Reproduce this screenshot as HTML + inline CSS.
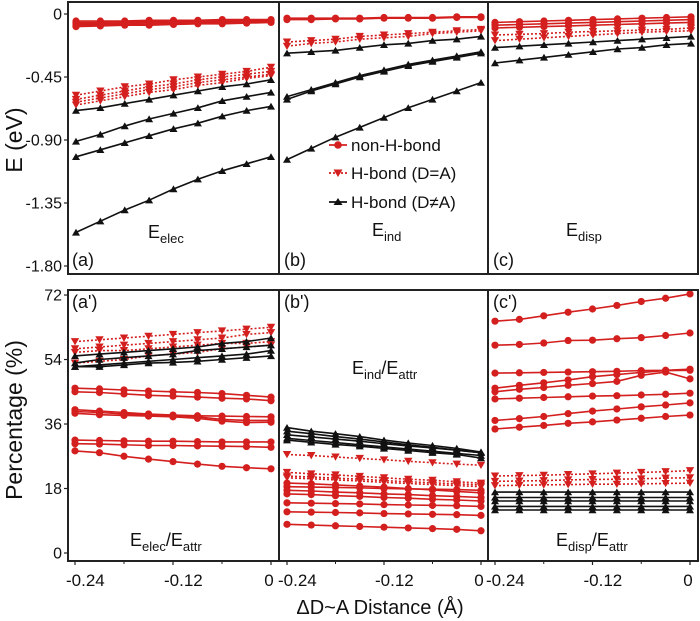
<!DOCTYPE html>
<html><head><meta charset="utf-8"><style>
html,body{margin:0;padding:0;background:#fff;}
svg{display:block;font-family:"Liberation Sans",Arial,sans-serif;}
</style></head><body>
<svg id="chart" width="700" height="621" viewBox="0 0 700 621"></svg>
<script>
// x values (ΔD~A distance, Å)
const xVals = [-0.24,-0.21,-0.18,-0.15,-0.12,-0.09,-0.06,-0.03,0];
const xTickLabels = ["-0.24","-0.12","0"];
const xTickVals = [-0.24,-0.12,0];
const eTickVals = [0,-0.45,-0.9,-1.35,-1.8];
const eTickLabels = ["0","-0.45","-0.90","-1.35","-1.80"];
const pTickVals = [0,18,36,54,72];
const pTickLabels = ["0","18","36","54","72"];

// Panel (a) E_elec
const aNon = [[-0.05,-0.05,-0.05,-0.045,-0.045,-0.045,-0.04,-0.04,-0.04],[-0.06,-0.06,-0.055,-0.055,-0.05,-0.05,-0.05,-0.045,-0.045],[-0.07,-0.07,-0.065,-0.06,-0.06,-0.055,-0.055,-0.05,-0.05],[-0.08,-0.078,-0.075,-0.07,-0.068,-0.065,-0.062,-0.06,-0.055],[-0.09,-0.085,-0.08,-0.08,-0.075,-0.07,-0.07,-0.065,-0.06]];
const aDA = [[-0.58,-0.55,-0.52,-0.5,-0.47,-0.45,-0.43,-0.41,-0.38],[-0.61,-0.58,-0.55,-0.52,-0.5,-0.47,-0.45,-0.43,-0.41],[-0.63,-0.6,-0.57,-0.54,-0.52,-0.49,-0.47,-0.45,-0.43],[-0.65,-0.62,-0.59,-0.56,-0.54,-0.51,-0.49,-0.46,-0.44]];
const aDNA = [[-0.69,-0.67,-0.64,-0.61,-0.58,-0.55,-0.52,-0.5,-0.47],[-0.91,-0.86,-0.8,-0.75,-0.71,-0.67,-0.62,-0.59,-0.56],[-1.02,-0.97,-0.92,-0.87,-0.82,-0.78,-0.73,-0.69,-0.66],[-1.56,-1.48,-1.4,-1.33,-1.25,-1.18,-1.12,-1.07,-1.02]];
// Panel (b) E_ind
const bNon = [[-0.03,-0.03,-0.03,-0.03,-0.025,-0.025,-0.025,-0.02,-0.02],[-0.04,-0.04,-0.035,-0.035,-0.03,-0.03,-0.03,-0.025,-0.025]];
const bDA = [[-0.2,-0.19,-0.18,-0.16,-0.15,-0.14,-0.13,-0.12,-0.11],[-0.23,-0.21,-0.2,-0.18,-0.17,-0.16,-0.14,-0.13,-0.12]];
const bDNA = [[-0.28,-0.27,-0.26,-0.24,-0.22,-0.21,-0.19,-0.18,-0.16],[-0.59,-0.54,-0.49,-0.44,-0.4,-0.36,-0.33,-0.3,-0.27],[-0.61,-0.55,-0.5,-0.45,-0.41,-0.37,-0.34,-0.31,-0.28],[-1.04,-0.96,-0.88,-0.81,-0.74,-0.67,-0.61,-0.55,-0.49]];
// Panel (c) E_disp
const cNon = [[-0.06,-0.055,-0.05,-0.045,-0.04,-0.035,-0.03,-0.025,-0.02],[-0.08,-0.075,-0.07,-0.065,-0.06,-0.055,-0.05,-0.045,-0.04],[-0.1,-0.095,-0.09,-0.085,-0.08,-0.075,-0.07,-0.065,-0.06]];
const cDA = [[-0.15,-0.145,-0.14,-0.13,-0.125,-0.12,-0.115,-0.11,-0.1],[-0.19,-0.18,-0.17,-0.16,-0.15,-0.14,-0.13,-0.125,-0.12]];
const cDNA = [[-0.24,-0.23,-0.22,-0.21,-0.2,-0.19,-0.18,-0.17,-0.16],[-0.35,-0.33,-0.31,-0.29,-0.27,-0.25,-0.24,-0.22,-0.21]];
// Panel (a') E_elec/E_attr
const apNon = [[46,45.8,45.5,45.2,45,44.8,44.5,44,43.5],[45,44.8,44.4,44,43.8,43.5,43.2,43,42.5],[40,39.6,39.2,38.8,38.5,38.3,38.2,38.1,38],[39.5,39.2,38.8,38.6,38.4,38,37.3,37,37],[39,38.6,38.4,38.2,38,37.6,36.8,36.4,36.5],[31.5,31.4,31.3,31.2,31.2,31.1,31,31,31],[30.5,30.4,30.2,30,30,29.9,29.8,29.7,29.5],[28.5,28,27,26.2,25.5,24.8,24.2,23.8,23.5]];
const apDA = [[59,59.5,60,60.5,61,61.5,62,62.5,63],[57,57.5,58,58.5,59,59.5,60,61,61.5],[56,56.5,56.5,57,57.5,58,58.5,58.5,59],[53,53.5,54,55,55.5,56,57,57.5,58]];
const apDNA = [[55,55.5,56,56.5,57,57.5,58.5,59,60],[53,54,54.5,55,55.5,56.5,57,57.5,58],[52,52.5,53,53.5,54,54.5,55,55.5,56.5],[52,52,52.5,53,53.2,53.5,54,54.5,55]];
// Panel (b') E_ind/E_attr
const bpNon = [[19.5,19.3,19,18.7,18.4,18,17.6,17.2,16.8],[18.5,18.4,18.3,18.2,18,17.9,17.8,17.7,17.5],[17.5,17.3,17,16.8,16.5,16.3,16,15.8,15.5],[16.5,16.3,16,15.8,15.5,15.3,15,14.8,14.5],[14,13.9,13.8,13.7,13.5,13.4,13.3,13.2,13],[11.5,11.4,11.3,11.2,11,10.9,10.8,10.7,10.5],[8,7.8,7.6,7.4,7.2,7,6.8,6.6,6.2]];
const bpDA = [[27.5,27.2,26.8,26.4,26,25.6,25.2,24.8,24.5],[22.5,22.1,21.8,21.4,21,20.6,20.3,19.9,19.5],[21.5,21.2,20.9,20.6,20.2,19.9,19.6,19.3,19],[21,20.7,20.4,20.1,19.7,19.4,19.1,18.8,18.5]];
const bpDNA = [[35,34,33.3,32.5,31.5,30.7,30,29.2,28.2],[34,33.3,32.5,31.8,31,30.2,29.5,28.7,28],[33,32.4,31.8,31.2,30.5,29.9,29.3,28.7,28],[32,31.4,30.8,30.2,29.6,29,28.4,27.8,27.2],[31.5,30.9,30.3,29.8,29.2,28.6,28,27.5,26.5]];
// Panel (c') E_disp/E_attr
const cpNon = [[64.7,65.2,66.2,67.2,68.1,69.1,70.2,71.1,72.3],[58,58.2,58.6,59.3,59.4,59.8,60.1,60.7,61.4],[50.2,50.3,50.4,50.5,50.6,50.7,50.9,51,51.3],[46,46.8,47.5,48.3,49.2,49.8,50.4,50.9,51],[45,45.7,46.2,46.8,47.3,47.9,49.6,50.5,48.6],[43,43.2,43.4,43.6,43.8,43.9,44.1,44.3,44.6],[37,37.5,38.1,38.9,39.6,40.2,40.8,41.3,41.9],[34.6,35.1,35.6,36.2,36.6,37.1,37.6,38.1,38.5]];
const cpDA = [[21.5,21.6,21.7,21.9,22.1,22.3,22.5,22.7,23],[20,20.1,20.2,20.4,20.5,20.6,20.7,20.9,21],[18.8,18.9,19,19.1,19.2,19.2,19.3,19.4,19.5]];
const cpDNA = [[17,17,17,17,17,17,17,17,17],[15.5,15.5,15.5,15.5,15.5,15.5,15.5,15.5,15.5],[14.5,14.5,14.5,14.5,14.5,14.5,14.5,14.5,14.5],[13,13,13,13,13,13,13,13,13],[12,12,12,12,12,12,12,12,12]];

const svg = document.getElementById('chart');
const NS = 'http://www.w3.org/2000/svg';
function mk(tag, attrs, parent){const e=document.createElementNS(NS,tag);for(const k in attrs)e.setAttribute(k,attrs[k]);(parent||svg).appendChild(e);return e;}
const RED='#d41f1f', BLK='#111';

const panels = [
 {id:'a', x0:68, x1:279, px0:76, px1:271, top:2, bot:274, y0:14, yScale:140, type:'e', non:aNon, da:aDA, dna:aDNA},
 {id:'b', x0:279, x1:488, px0:287, px1:481, top:2, bot:274, y0:14, yScale:140, type:'e', non:bNon, da:bDA, dna:bDNA},
 {id:'c', x0:488, x1:698, px0:495, px1:691, top:2, bot:274, y0:14, yScale:140, type:'e', non:cNon, da:cDA, dna:cDNA},
 {id:'a-prime', x0:68, x1:279, px0:75, px1:271, top:290, bot:561, y0:553, yScale:-3.583, type:'p', non:apNon, da:apDA, dna:apDNA},
 {id:'b-prime', x0:279, x1:488, px0:287, px1:481, top:290, bot:561, y0:553, yScale:-3.583, type:'p', non:bpNon, da:bpDA, dna:bpDNA},
 {id:'c-prime', x0:488, x1:698, px0:495, px1:690, top:290, bot:561, y0:553, yScale:-3.583, type:'p', non:cpNon, da:cpDA, dna:cpDNA}
];

panels.forEach(p=>{
  const sx = v => p.px0 + (v - xVals[0])/(xVals[xVals.length-1]-xVals[0])*(p.px1-p.px0);
  const sy = v => p.type==='e' ? p.y0 - v*p.yScale : p.y0 + v*p.yScale;
  const g = mk('g',{});
  
  
  const groups=[['non-h-bond',p.non,RED,'circle',null],['h-bond-d-eq-a',p.da,RED,'down','2,2'],['h-bond-d-neq-a',p.dna,BLK,'up',null]];
  groups.forEach(([nm,series,col,shape,dash])=>{
    series.forEach((vals,si)=>{
      const pts = vals.map((v,i)=>sx(xVals[i]).toFixed(1)+','+sy(v).toFixed(1)).join(' ');
      const pl = mk('polyline',{points:pts,fill:'none',stroke:col,'stroke-width':1.6},g);
      if(dash) pl.setAttribute('stroke-dasharray',dash);
      
      
      vals.forEach((v,i)=>{
        const cx=sx(xVals[i]), cy=sy(v); let m;
        if(shape==='circle') m=mk('circle',{cx:cx,cy:cy,r:3.6,fill:col},g);
        else if(shape==='down') m=mk('polygon',{points:`${cx-4.2},${cy-3.5} ${cx+4.2},${cy-3.5} ${cx},${cy+3.8}`,fill:col},g);
        else m=mk('polygon',{points:`${cx-4},${cy+3.2} ${cx+4},${cy+3.2} ${cx},${cy-3.6}`,fill:col},g);
        
        
      });
    });
  });
  const fr = mk('rect',{x:p.x0,y:p.top,width:p.x1-p.x0,height:p.bot-p.top,fill:'none',stroke:'#222','stroke-width':2});
  
  
  if(p.type==='p'){
    xTickVals.forEach((v,i)=>{
      mk('line',{x1:sx(v),x2:sx(v),y1:p.bot,y2:p.bot+4,stroke:'#222','stroke-width':1.2});
      const isZero = xTickLabels[i]==='0';
      const t=mk('text',{x:isZero? sx(v)-2 : sx(v)-9,y:586,'font-size':17,'text-anchor':isZero?'middle':'start',fill:'#111'});
      t.textContent=xTickLabels[i];
      
      
    });
    [-0.18,-0.06].forEach(v=>mk('line',{x1:sx(v),x2:sx(v),y1:p.bot,y2:p.bot+3,stroke:'#222','stroke-width':1}));
  }
});

// y axes
function yAxis(vals,labels,y0,scale,type){
  vals.forEach((v,i)=>{
    const y = type==='e'? y0 - v*scale : y0 + v*scale;
    mk('line',{x1:64,x2:68,y1:y,y2:y,stroke:'#222','stroke-width':1.2});
    const t=mk('text',{x:62,y:y+5.5,'font-size':16,'text-anchor':'end',fill:'#111'});
    t.textContent=labels[i];
    
    
  });
}
yAxis(eTickVals,eTickLabels,14,140,'e');
yAxis(pTickVals,pTickLabels,553,-3.583,'p');

function txt(x,y,s,size,name,extra){const t=mk('text',Object.assign({x:x,y:y,'font-size':size,fill:'#111'},extra||{}));t.innerHTML=s;return t;}
txt(22,140,'E (eV)',23,'y-axis-title-energy',{transform:'rotate(-90 22 140)','text-anchor':'middle'});
txt(22,420,'Percentage (%)',23,'y-axis-title-percentage',{transform:'rotate(-90 22 420)','text-anchor':'middle'});
txt(380,614,'ΔD~A Distance (Å)',20,'x-axis-title',{'text-anchor':'middle'});
txt(72,266,'(a)',18,'panel-label-a'); txt(284,266,'(b)',18,'panel-label-b'); txt(493,266,'(c)',18,'panel-label-c');
txt(72,308,"(a')",18,'panel-label-a-prime'); txt(284,308,"(b')",18,'panel-label-b-prime'); txt(493,308,"(c')",18,'panel-label-c-prime');
const sub='<tspan font-size="13" dy="5">';
txt(148,238,'E'+sub+'elec</tspan>',18,'label-e-elec');
txt(372,236,'E'+sub+'ind</tspan>',18,'label-e-ind');
txt(566,236,'E'+sub+'disp</tspan>',18,'label-e-disp');
txt(130,546,'E'+sub+'elec</tspan><tspan dy="-5">/E</tspan>'+sub+'attr</tspan>',18,'label-elec-ratio');
txt(352,374,'E'+sub+'ind</tspan><tspan dy="-5">/E</tspan>'+sub+'attr</tspan>',18,'label-ind-ratio');
txt(556,546,'E'+sub+'disp</tspan><tspan dy="-5">/E</tspan>'+sub+'attr</tspan>',18,'label-disp-ratio');

// legend
const lg = mk('g',{});


[['non-H-bond',RED,'circle',null,145],['H-bond (D=A)',RED,'down','2,2',173],['H-bond (D≠A)',BLK,'up',null,202]].forEach(([s,col,shape,dash,y])=>{
  const l=mk('line',{x1:329,x2:347,y1:y,y2:y,stroke:col,'stroke-width':1.8},lg);
  if(dash) l.setAttribute('stroke-dasharray',dash);
  const cx=338;
  if(shape==='circle') mk('circle',{cx:cx,cy:y,r:3.8,fill:col},lg);
  else if(shape==='down') mk('polygon',{points:`${cx-4.5},${y-3.5} ${cx+4.5},${y-3.5} ${cx},${y+4}`,fill:col},lg);
  else mk('polygon',{points:`${cx-4.5},${y+3} ${cx+4.5},${y+3} ${cx},${y-4}`,fill:col},lg);
  const t=mk('text',{x:351,y:y+6,'font-size':17,fill:'#111'},lg);
  t.textContent=s;
  
  
});
</script>
</body></html>
